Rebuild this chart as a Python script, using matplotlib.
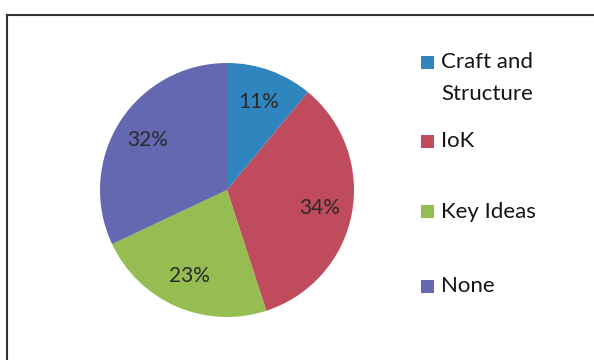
import matplotlib
matplotlib.use("Agg")
import math
import matplotlib.pyplot as plt
from matplotlib.patches import Rectangle
from matplotlib.lines import Line2D

categories = ["Craft and\nStructure", "IoK", "Key Ideas", "None"]
values = [11, 34, 23, 32]
colors = ["#2f86bf", "#bf4b5c", "#95bd52", "#6468b0"]

plt.rcParams['font.family'] = ['Lato', 'DejaVu Sans']

W, H = 594, 360
fig = plt.figure(figsize=(W / 100, H / 100), dpi=100)
fig.patch.set_facecolor("white")

cx, cy, r = 227, 190, 127
ax = fig.add_axes([(cx - r) / W, (H - cy - r) / H, 2 * r / W, 2 * r / H])
wedges, texts = ax.pie(values, colors=colors, startangle=90, counterclock=False,
                       wedgeprops=dict(linewidth=0), radius=1.0)
ax.set_xlim(-1, 1)
ax.set_ylim(-1, 1)
ax.set_aspect("auto")
total = sum(values)
cum = 0
for v in values:
    mid = 90 - (cum + v / 2) / total * 360
    cum += v
    x = 0.74 * math.cos(math.radians(mid))
    y = 0.74 * math.sin(math.radians(mid))
    ax.text(x, y, f"{round(v / total * 100)}%", ha="center", va="center",
            fontsize=15, color="#2a2a2a")

# frame lines (scanned chart border)
fig.add_artist(Line2D([7 / W, 1.0], [1 - 15 / H, 1 - 15 / H], transform=fig.transFigure,
                      color="#333333", linewidth=1.5))
fig.add_artist(Line2D([7 / W, 7 / W], [1 - 15 / H, 0], transform=fig.transFigure,
                      color="#333333", linewidth=1.5))

# legend
legend_y = [62, 141, 212, 286]
for lab, col, ly in zip(categories, colors, legend_y):
    fig.add_artist(Rectangle((421 / W, 1 - (ly + 6.5) / H), 13 / W, 13 / H,
                             transform=fig.transFigure, facecolor=col, edgecolor="none"))
    lines = lab.split("\n")
    for i, line in enumerate(lines):
        fig.text(441 / W, 1 - (ly + 32 * i) / H, line, ha="left", va="center",
                 fontsize=16, color="#151515")

fig.savefig("out.png", dpi=100)
